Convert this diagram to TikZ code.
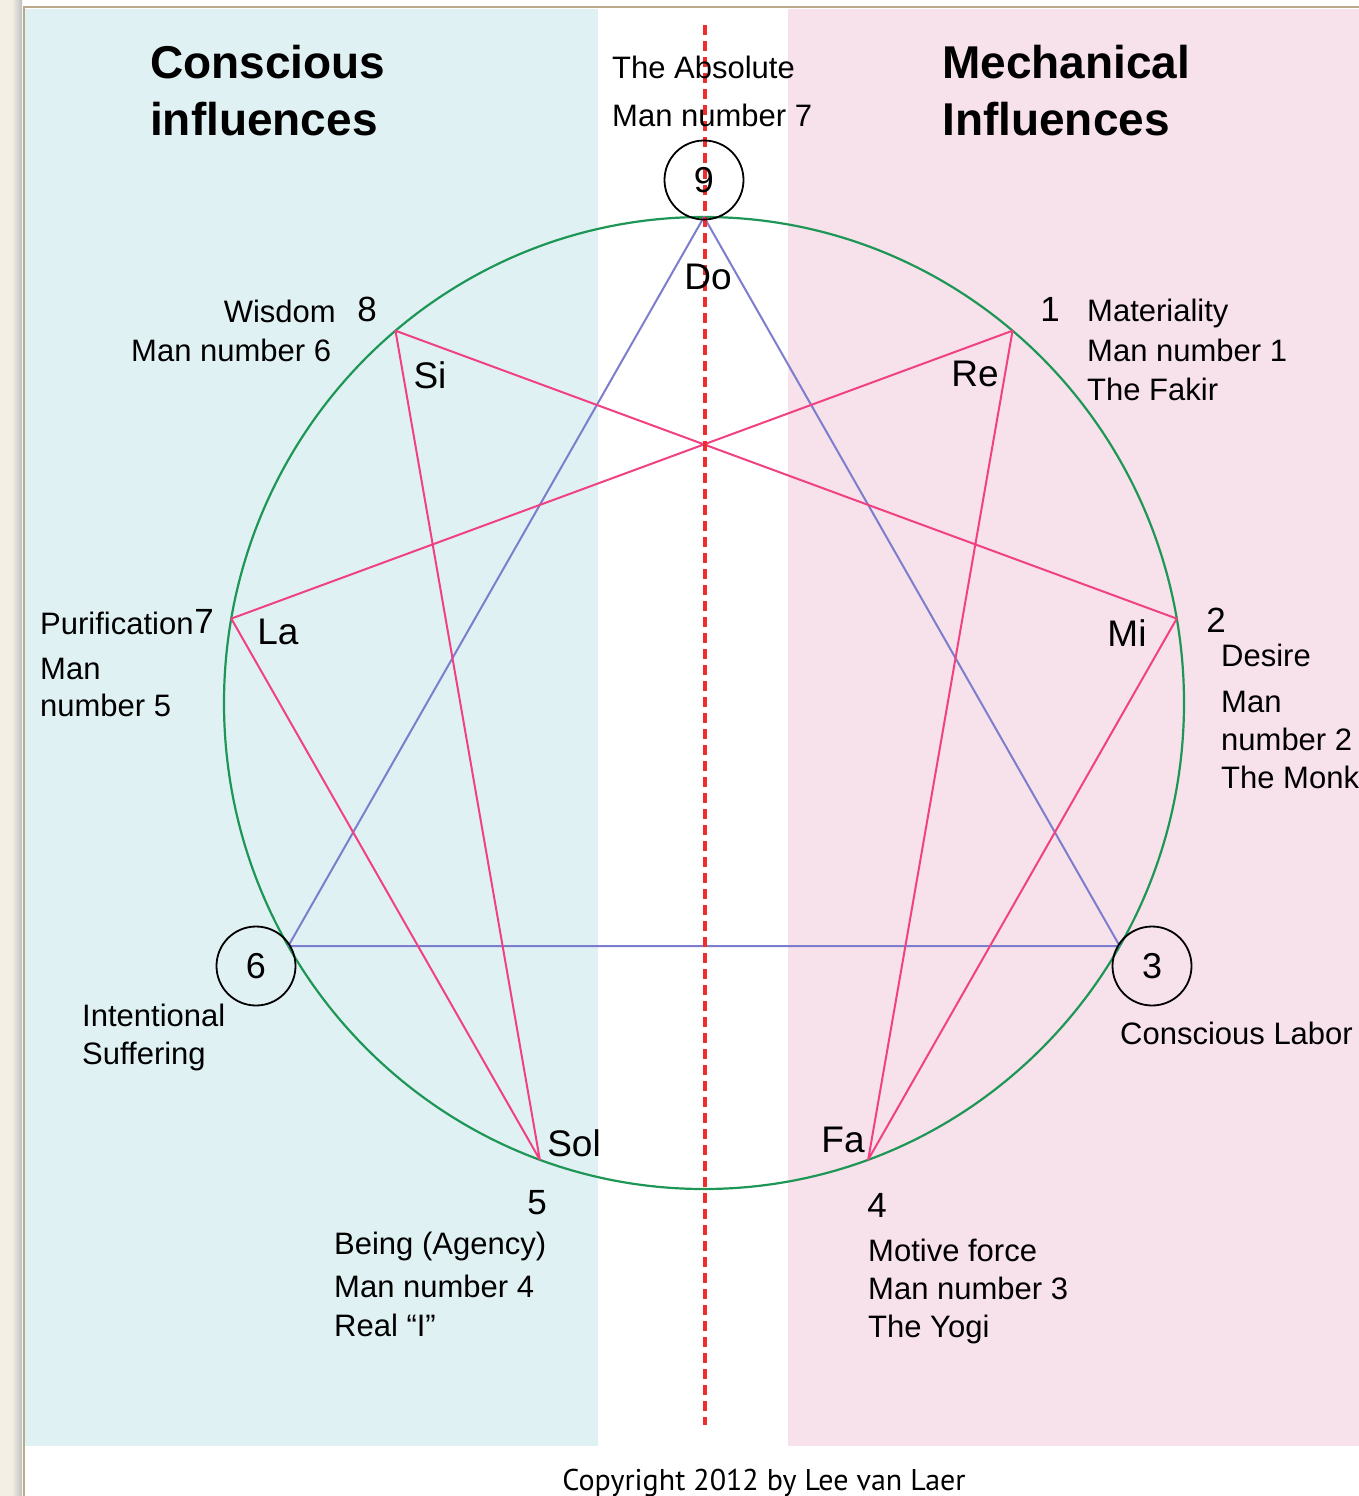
\documentclass[tikz,border=0pt]{standalone}
\usepackage{fontspec}
\setmainfont{Liberation Sans}
\newfontfamily\copyfont{PT Sans}
\definecolor{consblue}{RGB}{224,241,244}
\definecolor{mechpink}{RGB}{247,225,235}
\definecolor{circgreen}{RGB}{30,150,85}
\definecolor{triblue}{RGB}{125,125,205}
\definecolor{hexpink}{RGB}{240,65,130}
\definecolor{axisred}{RGB}{240,45,45}
\definecolor{paper}{RGB}{243,239,229}
\definecolor{rim}{RGB}{185,170,140}

\begin{document}
\begin{tikzpicture}[x=1pt, y=-1pt,
    note/.style={font=\fontsize{31}{39}\selectfont, align=left, inner sep=0pt},
    num/.style={font=\fontsize{35}{40}\selectfont, inner sep=0pt},
    syl/.style={font=\fontsize{37}{40}\selectfont, inner sep=0pt},
    head/.style={font=\fontsize{46}{57}\bfseries\selectfont, align=left, inner sep=0pt},
    ring/.style={draw, circle, line width=1.8pt, minimum size=79pt, inner sep=0pt, font=\fontsize{36}{40}\selectfont}]
  \useasboundingbox (0,0) rectangle (1359,1496);

  % page and panels
  \fill[white] (0,0) rectangle (1359,1496);
  \fill[paper] (0,0) rectangle (12,1496);
  \shade[left color=paper, right color=black!25] (12,0) rectangle (22,1496);
  \fill[consblue] (25,9) rectangle (598,1446);
  \fill[mechpink] (788,9) rectangle (1359,1446);
  \draw[rim, line width=2.5pt] (24,1496) -- (24,7) -- (1359,7);

  \node[head, anchor=base west] (conscious) at (150,135) {Conscious\\influences};
  \node[head, anchor=base west] (mechanical) at (942,135) {Mechanical\\Influences};

  % enneagram
  \draw[circgreen, line width=2.2pt] (704,703) ellipse[x radius=480pt, y radius=486pt];
  \foreach \k in {0,...,8}
    \coordinate (p\k) at ({704+480*sin(40*\k)}, {703-486*cos(40*\k)});
  \draw[triblue, line width=2pt, line join=round] (p0) -- (p3) -- (p6) -- cycle;
  \draw[hexpink, line width=2pt, line join=round] (p1) -- (p4) -- (p2) -- (p8) -- (p5) -- (p7) -- cycle;

  \draw[axisred, line width=3.5pt, dash pattern=on 10pt off 6pt] (705,25) -- (705,1425);

  \node[ring] (c9) at (704,180) {9};
  \node[ring] (c6) at (256,966) {6};
  \node[ring] (c3) at (1152,966) {3};

  % notes
  \node[syl] (do) at (708,277) {Do};
  \node[syl] (re) at (975,374) {Re};
  \node[syl] (mi) at (1127,633) {Mi};
  \node[syl] (fa) at (843,1140) {Fa};
  \node[syl] (sol) at (574,1143) {Sol};
  \node[syl] (la) at (278,632) {La};
  \node[syl] (si) at (430,375) {Si};

  % numbers
  \node[num] (n1) at (1050,309) {1};
  \node[num] (n2) at (1216,620) {2};
  \node[num] (n4) at (877,1205) {4};
  \node[num] (n5) at (537,1203) {5};
  \node[num] (n7) at (204,621) {7};
  \node[num] (n8) at (367,309) {8};

  % texts
  \node[note, anchor=base west] (absolute) at (612,126) {The Absolute\\[9pt]Man number 7};
  \node[note, anchor=base west] (fakir) at (1087,400) {Materiality\\[1pt]Man number 1\\The Fakir};
  \node[note, anchor=base west] (monk) at (1221,788) {Desire\\[7pt]Man\\[-1pt]number 2\\[-1pt]The Monk};
  \node[note, anchor=base west] (labor) at (1120,1044) {Conscious Labor};
  \node[note, anchor=base west] (yogi) at (868,1337) {Motive force\\[-1pt]Man number 3\\[-1pt]The Yogi};
  \node[note, anchor=base west] (agency) at (334,1336) {Being (Agency)\\[4pt]Man number 4\\Real “I”};
  \node[note, anchor=base west] (suffering) at (82,1064) {Intentional\\[-1pt]Suffering};
  \node[note, anchor=base west] (purif) at (40,634) {Purification};
  \node[note, anchor=base west] (man5) at (40,716) {Man\\[-2pt]number 5};
  \node[note, anchor=base east] (wisdom) at (336,322) {Wisdom};
  \node[note, anchor=base west] (man6) at (131,361) {Man number 6};

  \node[font=\copyfont\fontsize{30}{36}\selectfont, anchor=base] (copy) at (764,1490) {Copyright 2012 by Lee van Laer};
\end{tikzpicture}
\end{document}
